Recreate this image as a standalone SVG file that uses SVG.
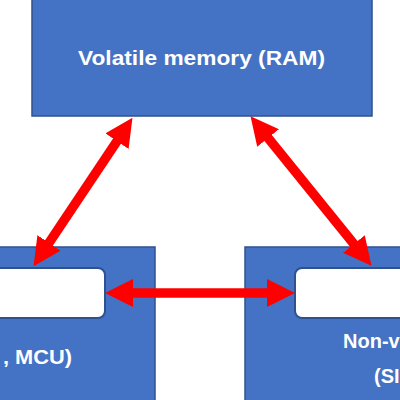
<svg xmlns="http://www.w3.org/2000/svg" width="400" height="400" viewBox="0 0 400 400">
  <defs>
    <style>
      .box { fill: #4472C4; stroke: #2F528F; stroke-width: 1.5; }
      .inner { fill: #FFFFFF; stroke: #2F528F; stroke-width: 2; }
      .lbl { fill: #FFFFFF; font-family: "Liberation Sans", Arial, sans-serif; font-weight: bold; font-size: 20px; }
      .arrow { stroke: #FF0000; stroke-width: 9.5; fill: none; marker-start: url(#head); marker-end: url(#head); }
    </style>
    <marker id="head" viewBox="0 0 28 28" refX="1" refY="14" markerWidth="28" markerHeight="28" markerUnits="userSpaceOnUse" orient="auto-start-reverse">
      <path d="M0,0 L28,14 L0,28 z" fill="#FF0000"/>
    </marker>
  </defs>
  <rect width="400" height="400" fill="#FFFFFF"/>
  <g id="ram">
    <rect class="box" x="32" y="-2" width="340" height="118"/>
    <text class="lbl" x="78" y="65" font-size="22" textLength="247" lengthAdjust="spacingAndGlyphs">Volatile memory (RAM)</text>
  </g>
  <g id="cpu">
    <rect class="box" x="-2" y="247" width="157" height="160"/>
    <rect class="inner" x="-12" y="268" width="117" height="50" rx="7"/>
    <text class="lbl" x="3" y="364" textLength="69" lengthAdjust="spacingAndGlyphs">, MCU)</text>
  </g>
  <g id="nvm">
    <rect class="box" x="245" y="247" width="160" height="160"/>
    <rect class="inner" x="295" y="268" width="120" height="50" rx="7"/>
    <text class="lbl" x="343" y="348">Non-v</text>
    <text class="lbl" x="374" y="383">(SI</text>
  </g>
  <g id="connectors">
    <line class="arrow" x1="48.5" y1="243.7" x2="117.5" y2="140.3"/>
    <line class="arrow" x1="267.5" y1="137.2" x2="354.5" y2="244.8"/>
    <line class="arrow" x1="132" y1="293" x2="268" y2="293"/>
  </g>
</svg>
